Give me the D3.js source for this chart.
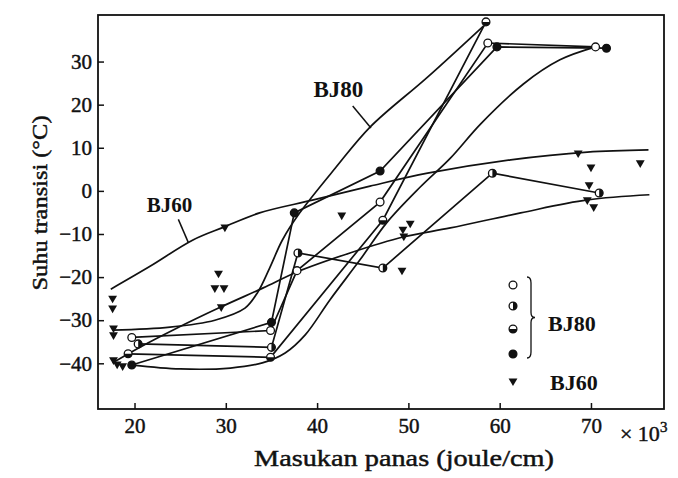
<!DOCTYPE html>
<html>
<head>
<meta charset="utf-8">
<script src="https://cdn.jsdelivr.net/npm/d3@7"></script>
<style>
  body { margin: 0; background: #fff; }
  svg { display: block; }
  text { font-family: "Liberation Serif", "DejaVu Serif", serif; fill: #111; }
  .heavy { stroke: #111; stroke-width: 0.45px; }
</style>
</head>
<body>
<svg id="chart" width="678" height="478"></svg>
<script>
// tick values
const xTicks = [20, 30, 40, 50, 60, 70];
const yTicks = [30, 20, 10, 0, -10, -20, -30, -40];

// BJ80 specimens (heat input x1e3 J/cm, transition temp degC)
const openPts = [[19.7, -34.0], [34.9, -32.4], [37.8, -18.5], [46.9, -2.6], [58.7, 34.3], [70.5, 33.4]];
const halfVPts = [[20.4, -35.5], [35.0, -36.3], [37.9, -14.4], [47.2, -17.9], [59.2, 4.1], [70.9, -0.5]];
const halfHPts = [[19.3, -37.8], [34.9, -38.6], [47.2, -6.8], [58.5, 39.2]];
const filledPts = [[19.7, -40.4], [35.0, -30.5], [37.5, -5.1], [46.9, 4.6], [59.7, 33.4], [71.7, 33.1]];

// BJ60 points
const bj60Pts = [
  [17.6, -24.9], [17.6, -27.2], [17.7, -31.8], [17.7, -33.4], [17.7, -39.2], [18.1, -40.2], [18.7, -40.6],
  [29.2, -19.1], [28.8, -22.5], [29.8, -22.5], [29.5, -26.9], [29.9, -8.4],
  [42.7, -5.6], [50.2, -7.5], [49.4, -8.9], [49.5, -10.5], [49.3, -18.4],
  [68.6, 8.8], [70.0, 5.5], [69.8, 1.4], [69.6, -2.1], [70.3, -3.7], [75.4, 6.5]
];

// band curves
const bj80Upper = [[17.6, -32.3], [23.9, -31.6], [28.8, -30.0], [32.1, -27.2], [33.5, -23.5], [34.8, -17.9],
  [36.2, -11.4], [38.1, -5.1], [42.0, 5.3], [45.8, 14.8], [52.1, 26.4], [58.6, 39.0]];
const bj80Lower = [[19.8, -40.4], [25.0, -41.3], [30.5, -41.1], [34.0, -39.9], [36.5, -37.6], [38.7, -33.4],
  [41.4, -25.3], [44.7, -16.0], [47.7, -7.2], [51.3, 0.9], [54.6, 7.6], [57.9, 15.5], [62.6, 24.8],
  [66.6, 30.4], [70.5, 33.4]];
const bj60Upper = [[17.4, -22.8], [21.7, -17.5], [26.4, -11.4], [29.8, -8.4], [33.7, -5.1], [39.6, -2.1],
  [45.8, 1.1], [52.1, 4.1], [61.2, 7.2], [69.6, 9.0], [76.3, 9.5]];
const bj60Lower = [[17.6, -39.9], [20.4, -36.5], [24.4, -32.1], [29.5, -26.9], [34.1, -22.5], [37.8, -18.8],
  [43.6, -14.4], [49.4, -10.7], [54.6, -8.6], [62.3, -5.1], [69.6, -2.1], [76.4, -0.9]];

const margin = { left: 98, top: 15 };
const width = 566;
const height = 394;

const svg = d3.select('#chart');
const g = svg.append('g').attr('transform', 'translate(' + margin.left + ',' + margin.top + ')');

const x = d3.scaleLinear().domain([16, 78]).range([0, width]);
const y = d3.scaleLinear().domain([-50.6, 40.8]).range([height, 0]);

// frame
g.append('rect')
  .attr('width', width)
  .attr('height', height)
  .attr('fill', 'none')
  .attr('stroke', '#111')
  .attr('stroke-width', 1.8);

// axes, ticks point inward
const xAxis = g.append('g')
  .attr('transform', 'translate(0,' + height + ')')
  .call(d3.axisBottom(x).tickValues(xTicks).tickSize(-6).tickPadding(9));
const yAxis = g.append('g')
  .call(d3.axisLeft(y).tickValues(yTicks).tickSize(-6).tickPadding(6));

[xAxis, yAxis].forEach(a => {
  a.select('.domain').remove();
  a.selectAll('line').attr('stroke', '#111').attr('stroke-width', 1.5);
  a.selectAll('text')
    .attr('class', 'heavy')
    .style('font-size', '21px')
    .style('font-family', '"Liberation Serif", serif')
    .attr('fill', '#111');
});

const x3 = g.append('text')
  .attr('class', 'heavy')
  .attr('x', x(70) + 29)
  .attr('y', height + 32)
  .style('font-size', '22px');
x3.append('tspan').text('× 10');
x3.append('tspan').attr('dy', -9).style('font-size', '15px').text('3');

// axis titles
svg.append('text')
  .attr('class', 'heavy')
  .attr('x', 404)
  .attr('y', 466)
  .attr('text-anchor', 'middle')
  .attr('textLength', 300)
  .attr('lengthAdjust', 'spacingAndGlyphs')
  .style('font-size', '23px')
  .text('Masukan panas (joule/cm)');

svg.append('text')
  .attr('class', 'heavy')
  .attr('transform', 'translate(47,203) rotate(-90)')
  .attr('text-anchor', 'middle')
  .attr('textLength', 175)
  .attr('lengthAdjust', 'spacingAndGlyphs')
  .style('font-size', '21px')
  .text('Suhu transisi (°C)');

const line = d3.line()
  .x(d => x(d[0]))
  .y(d => y(d[1]));
const smooth = d3.line()
  .x(d => x(d[0]))
  .y(d => y(d[1]))
  .curve(d3.curveCatmullRom.alpha(0.5));

// band curves
[bj80Upper, bj80Lower, bj60Upper, bj60Lower].forEach(c => {
  g.append('path')
    .attr('d', smooth(c))
    .attr('fill', 'none')
    .attr('stroke', '#111')
    .attr('stroke-width', 1.7);
});

// data polylines
[openPts, halfVPts, halfHPts, filledPts].forEach(s => {
  g.append('path')
    .attr('d', line(s))
    .attr('fill', 'none')
    .attr('stroke', '#111')
    .attr('stroke-width', 1.7);
});

// curve labels with pointers
g.append('text')
  .attr('x', x(39.6))
  .attr('y', y(21.8))
  .style('font-size', '23px')
  .style('font-weight', 'bold')
  .text('BJ80');
g.append('line')
  .attr('x1', x(43.9)).attr('y1', y(19.7))
  .attr('x2', x(45.9)).attr('y2', y(14.6))
  .attr('stroke', '#111').attr('stroke-width', 1.5);

g.append('text')
  .attr('x', x(21.35))
  .attr('y', y(-5.0))
  .style('font-size', '21px')
  .style('font-weight', 'bold')
  .text('BJ60');
g.append('line')
  .attr('x1', x(24.8)).attr('y1', y(-6.6))
  .attr('x2', x(25.9)).attr('y2', y(-12.0))
  .attr('stroke', '#111').attr('stroke-width', 1.5);

// markers
const r = 3.9;
function circle(sel, cx, cy, fill) {
  sel.append('circle')
    .attr('cx', cx).attr('cy', cy).attr('r', r)
    .attr('fill', fill).attr('stroke', '#111').attr('stroke-width', 1.3);
}
function halfV(sel, cx, cy) {
  circle(sel, cx, cy, '#fff');
  sel.append('path')
    .attr('d', 'M' + cx + ',' + (cy - r) + 'A' + r + ',' + r + ' 0 0 1 ' + cx + ',' + (cy + r) + 'Z')
    .attr('fill', '#111');
}
function halfH(sel, cx, cy) {
  circle(sel, cx, cy, '#fff');
  sel.append('path')
    .attr('d', 'M' + (cx - r) + ',' + cy + 'A' + r + ',' + r + ' 0 0 0 ' + (cx + r) + ',' + cy + 'Z')
    .attr('fill', '#111');
}
const tri = d3.symbol().type(d3.symbolTriangle).size(34);
function triangle(sel, cx, cy) {
  sel.append('path')
    .attr('d', tri())
    .attr('transform', 'translate(' + cx + ',' + cy + ') rotate(180)')
    .attr('fill', '#111');
}

const marks = g.append('g');
bj60Pts.forEach(d => triangle(marks, x(d[0]), y(d[1])));
openPts.forEach(d => circle(marks, x(d[0]), y(d[1]), '#fff'));
halfVPts.forEach(d => halfV(marks, x(d[0]), y(d[1])));
halfHPts.forEach(d => halfH(marks, x(d[0]), y(d[1])));
filledPts.forEach(d => circle(marks, x(d[0]), y(d[1]), '#111'));

// legend
const lx = 513 - margin.left;
const leg = g.append('g');
circle(leg, lx, 285 - margin.top, '#fff');
halfV(leg, lx, 306 - margin.top);
halfH(leg, lx, 329 - margin.top);
circle(leg, lx, 354 - margin.top, '#111');
triangle(leg, lx, 381 - margin.top);

const bx = 527 - margin.left;
const bt = 277 - margin.top;
const bb = 358 - margin.top;
const bm = (bt + bb) / 2;
leg.append('path')
  .attr('d', 'M' + bx + ',' + bt +
    ' Q' + (bx + 4) + ',' + bt + ' ' + (bx + 4) + ',' + (bt + 6) +
    ' L' + (bx + 4) + ',' + (bm - 5) +
    ' Q' + (bx + 4) + ',' + bm + ' ' + (bx + 8) + ',' + bm +
    ' Q' + (bx + 4) + ',' + bm + ' ' + (bx + 4) + ',' + (bm + 5) +
    ' L' + (bx + 4) + ',' + (bb - 6) +
    ' Q' + (bx + 4) + ',' + bb + ' ' + bx + ',' + bb)
  .attr('fill', 'none')
  .attr('stroke', '#111')
  .attr('stroke-width', 1.3);

leg.append('text')
  .attr('x', 548 - margin.left)
  .attr('y', 331 - margin.top)
  .style('font-size', '22px')
  .style('font-weight', 'bold')
  .text('BJ80');
leg.append('text')
  .attr('x', 550 - margin.left)
  .attr('y', 390 - margin.top)
  .style('font-size', '22px')
  .style('font-weight', 'bold')
  .text('BJ60');
</script>
</body>
</html>
